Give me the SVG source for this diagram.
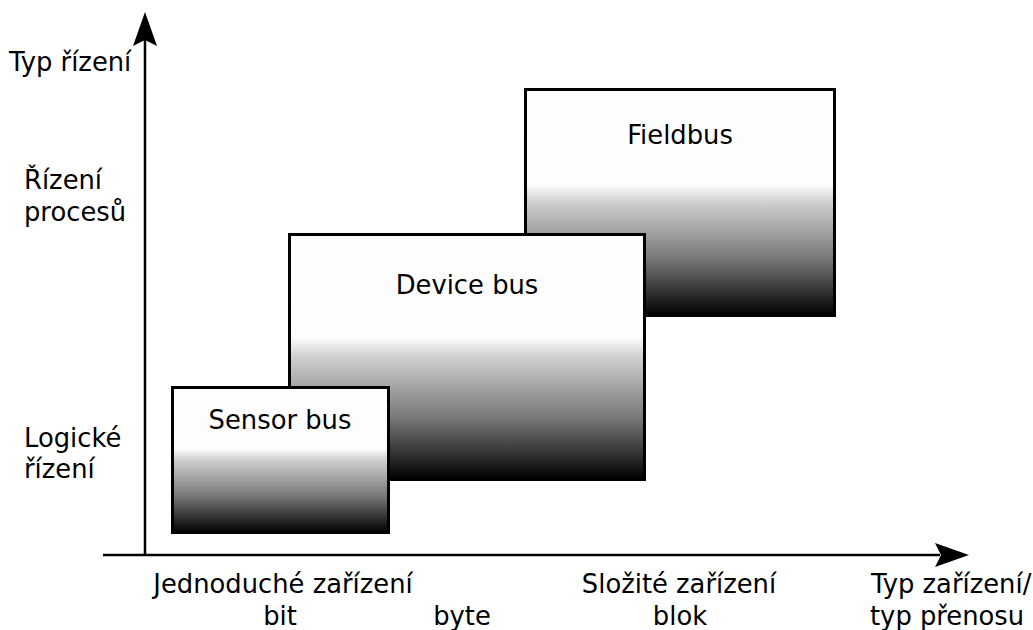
<svg xmlns="http://www.w3.org/2000/svg" width="1033" height="630" viewBox="0 0 1033 630">
  <style>
    text { font-family: "DejaVu Sans", "Liberation Sans", sans-serif; font-size: 25.8px; fill: #000; }
    .mid { text-anchor: middle; }
    .box { fill: url(#shade); stroke: #000; stroke-width: 3; }
    .axis { stroke: #000; stroke-width: 2.5; fill: none; }
  </style>
  <defs>
    <linearGradient id="shade" x1="0" y1="0" x2="0" y2="1">
      <stop offset="0" stop-color="#fefefe"/>
      <stop offset="0.42" stop-color="#fdfdfd"/>
      <stop offset="0.5" stop-color="#cfcfcf"/>
      <stop offset="0.75" stop-color="#777"/>
      <stop offset="1" stop-color="#000"/>
    </linearGradient>
  </defs>

  <!-- axes -->
  <g id="connectors">
    <path class="axis" d="M145,556 L145,40"/>
    <path d="M145,12 L157,46 L145,40 L133,46 Z" fill="#000"/>
    <path class="axis" d="M103,555 L940,555"/>
    <path d="M969,555 L935,543 L941,555 L935,567 Z" fill="#000"/>
  </g>

  <!-- axis labels -->
  <g id="y-labels">
    <text x="9" y="71">Typ řízení</text>
    <text x="24" y="189">Řízení</text>
    <text x="24" y="221">procesů</text>
    <text x="24" y="447">Logické</text>
    <text x="24" y="478">řízení</text>
  </g>
  <g id="x-labels">
    <text class="mid" x="283" y="593">Jednoduché zařízení</text>
    <text class="mid" x="280" y="625">bit</text>
    <text class="mid" x="462" y="625">byte</text>
    <text class="mid" x="679" y="593">Složité zařízení</text>
    <text class="mid" x="680" y="625">blok</text>
    <text x="871" y="593">Typ zařízení/</text>
    <text x="870" y="625">typ přenosu</text>
  </g>

  <!-- bus classes -->
  <g id="fieldbus">
    <rect class="box" x="525.5" y="89.5" width="309" height="226"/>
    <text class="mid" x="680" y="144">Fieldbus</text>
  </g>
  <g id="device-bus">
    <rect class="box" x="289.5" y="234.5" width="355" height="245"/>
    <text class="mid" x="467" y="294">Device bus</text>
  </g>
  <g id="sensor-bus">
    <rect class="box" x="172.5" y="387.5" width="216" height="145"/>
    <text class="mid" x="280" y="429">Sensor bus</text>
  </g>
</svg>
